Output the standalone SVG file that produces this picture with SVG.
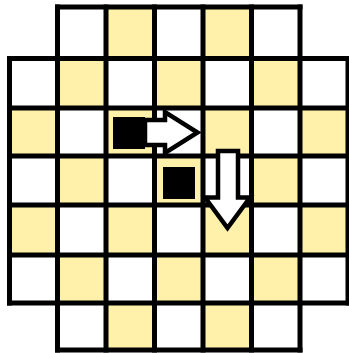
<svg xmlns="http://www.w3.org/2000/svg" width="349" height="353" viewBox="0 0 349 353">
<style>
.w{fill:#ffffff}
.y{fill:#fff0aa}
.grid{stroke:#000;stroke-width:5;stroke-linecap:square;fill:none}
.piece{fill:#000}
.arrow{fill:#fff;stroke:#000;stroke-width:4.5;stroke-linejoin:miter;stroke-miterlimit:10}
</style>
<rect width="349" height="353" fill="#fff"/>
<g id="cells">
<!-- row 0: y 7-58.5 -->
<rect class="w" x="57.5" y="7" width="48.5" height="51.5"/>
<rect class="y" x="106" y="7" width="48.5" height="51.5"/>
<rect class="w" x="154.5" y="7" width="48.5" height="51.5"/>
<rect class="y" x="203" y="7" width="48.5" height="51.5"/>
<rect class="w" x="251.5" y="7" width="48.5" height="51.5"/>
<!-- row 1: y 58.5-108 -->
<rect class="w" x="9.5" y="58.5" width="48" height="49.5"/>
<rect class="y" x="57.5" y="58.5" width="48.5" height="49.5"/>
<rect class="w" x="106" y="58.5" width="48.5" height="49.5"/>
<rect class="y" x="154.5" y="58.5" width="48.5" height="49.5"/>
<rect class="w" x="203" y="58.5" width="48.5" height="49.5"/>
<rect class="y" x="251.5" y="58.5" width="48.5" height="49.5"/>
<rect class="w" x="300" y="58.5" width="48" height="49.5"/>
<!-- row 2: y 108-156 -->
<rect class="y" x="9.5" y="108" width="48" height="48"/>
<rect class="w" x="57.5" y="108" width="48.5" height="48"/>
<rect class="y" x="106" y="108" width="48.5" height="48"/>
<rect class="w" x="154.5" y="108" width="48.5" height="48"/>
<rect class="y" x="203" y="108" width="48.5" height="48"/>
<rect class="w" x="251.5" y="108" width="48.5" height="48"/>
<rect class="y" x="300" y="108" width="48" height="48"/>
<!-- row 3: y 156-205 -->
<rect class="w" x="9.5" y="156" width="48" height="49"/>
<rect class="y" x="57.5" y="156" width="48.5" height="49"/>
<rect class="w" x="106" y="156" width="48.5" height="49"/>
<rect class="y" x="154.5" y="156" width="48.5" height="49"/>
<rect class="w" x="203" y="156" width="48.5" height="49"/>
<rect class="y" x="251.5" y="156" width="48.5" height="49"/>
<rect class="w" x="300" y="156" width="48" height="49"/>
<!-- row 4: y 205-255 -->
<rect class="y" x="9.5" y="205" width="48" height="50"/>
<rect class="w" x="57.5" y="205" width="48.5" height="50"/>
<rect class="y" x="106" y="205" width="48.5" height="50"/>
<rect class="w" x="154.5" y="205" width="48.5" height="50"/>
<rect class="y" x="203" y="205" width="48.5" height="50"/>
<rect class="w" x="251.5" y="205" width="48.5" height="50"/>
<rect class="y" x="300" y="205" width="48" height="50"/>
<!-- row 5: y 255-303 -->
<rect class="w" x="9.5" y="255" width="48" height="48"/>
<rect class="y" x="57.5" y="255" width="48.5" height="48"/>
<rect class="w" x="106" y="255" width="48.5" height="48"/>
<rect class="y" x="154.5" y="255" width="48.5" height="48"/>
<rect class="w" x="203" y="255" width="48.5" height="48"/>
<rect class="y" x="251.5" y="255" width="48.5" height="48"/>
<rect class="w" x="300" y="255" width="48" height="48"/>
<!-- row 6: y 303-350 -->
<rect class="w" x="57.5" y="303" width="48.5" height="47"/>
<rect class="y" x="106" y="303" width="48.5" height="47"/>
<rect class="w" x="154.5" y="303" width="48.5" height="47"/>
<rect class="y" x="203" y="303" width="48.5" height="47"/>
<rect class="w" x="251.5" y="303" width="48.5" height="47"/>
</g>
<g id="grid" class="grid">
<path d="M57.5,7H300M9.5,58.5H348M9.5,108H348M9.5,156H348M9.5,205H348M9.5,255H348M9.5,303H348M57.5,350H300"/>
<path d="M9.5,58.5V303M57.5,7V350M106,7V350M154.5,7V350M203,7V350M251.5,7V350M300,7V350M348,58.5V303"/>
</g>
<g id="piece1">
<path class="arrow" d="M145,120H165V112L197.5,132.5L165,153V145H145Z"/>
<rect class="piece" x="113" y="117" width="32" height="32"/>
</g>
<g id="piece2">
<rect class="piece" x="163" y="167" width="32" height="32"/>
<path class="arrow" d="M218,151H238V197.5H250L227.5,228L205,197.5H218Z"/>
</g>
</svg>
